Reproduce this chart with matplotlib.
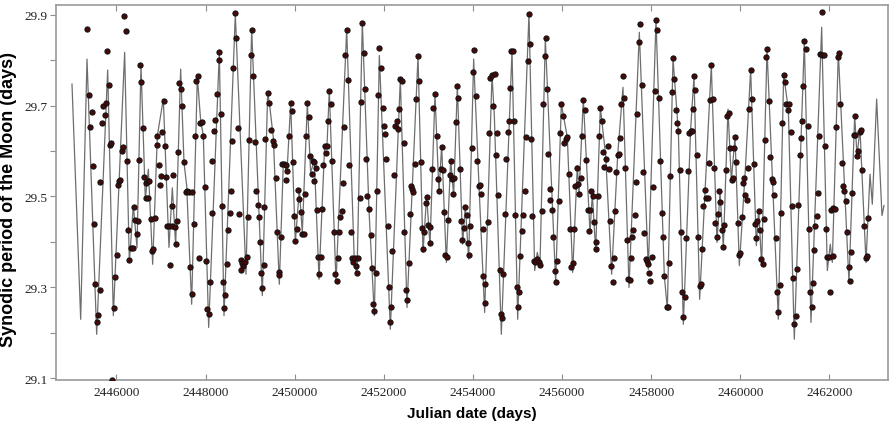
import matplotlib.pyplot as plt
from matplotlib.ticker import FixedLocator

# synodic period measurements (dots)
dot_jd = [
    2445345, 2445383, 2445443, 2445413, 2445472, 2445487, 2445517, 2445622, 2445592, 2445562,
    2445637, 2445667, 2445697, 2445742, 2445764, 2445787, 2445824, 2445854, 2445877, 2445906,
    2445944, 2445966, 2446011, 2446034, 2446064, 2446086, 2446131, 2446153, 2446176, 2446213,
    2446228, 2446266, 2446288, 2446325, 2446363, 2446385, 2446423, 2446475, 2446453, 2446512,
    2446528, 2446557, 2446587, 2446617, 2446662, 2446700, 2446737, 2446655, 2446707, 2446774,
    2446864, 2446804, 2446827, 2446902, 2446917, 2446954, 2446976, 2446999, 2447029, 2447059,
    2447089,
    2447111, 2447141, 2447178, 2447253, 2447306, 2447261, 2447246, 2447328, 2447351, 2447193,
    2447388, 2447403, 2447440, 2447478, 2447515, 2447553, 2447582, 2447635, 2447702, 2447650,
    2447687, 2447732, 2447770, 2447792, 2447837, 2447874, 2447912, 2447949, 2447852, 2447979,
    2448009, 2448039, 2448076, 2448099, 2448136, 2448151, 2448181, 2448218, 2448248, 2448293,
    2448308, 2448338, 2448368, 2448398, 2448435, 2448420, 2448480, 2448510, 2448548, 2448570,
    2448593, 2448623, 2448682, 2448667, 2448727, 2448750, 2448795, 2448825, 2448847, 2448877,
    2448802, 2448922, 2448952, 2448982, 2449012, 2449042, 2449071, 2449109, 2449131, 2449169,
    2449199, 2449221, 2449244, 2449273, 2449318, 2449341,
    2449318, 2449393, 2449431, 2449461, 2449505, 2449535, 2449573, 2449603, 2449640, 2449655,
    2449685, 2449722, 2449760, 2449797, 2449827, 2449805, 2449880, 2449910, 2449939, 2449954,
    2449992, 2450014, 2450044, 2450082, 2450104, 2450134, 2450171, 2450209, 2450231, 2450254,
    2450284, 2450321, 2450343, 2450381, 2450403, 2450426, 2450441, 2450471, 2450493, 2450531,
    2450583, 2450553, 2450620, 2450643, 2450673, 2450695, 2450725, 2450748, 2450777, 2450807,
    2450845, 2450875, 2450897, 2450942, 2450965, 2450994, 2451024, 2451054, 2451077, 2451114,
    2451137, 2451167, 2451204, 2451226, 2451264, 2451294, 2451316, 2451346, 2451384, 2451406,
    2451428, 2451458, 2451488, 2451518, 2451556, 2451571,
    2451608, 2451630, 2451668, 2451705, 2451735, 2451818, 2451750, 2451788, 2451840, 2451877,
    2451900, 2451937, 2451975, 2451997, 2452027, 2452049, 2452087, 2452117, 2452162, 2452147,
    2452192, 2452237, 2452259, 2452289, 2452319, 2452341, 2452371, 2452409, 2452446, 2452461,
    2452498, 2452528, 2452566, 2452596, 2452611, 2452640, 2452663, 2452700, 2452730, 2452768,
    2452798, 2452828, 2452850, 2452880, 2452902, 2452940, 2452970, 2453000, 2453037, 2453030,
    2453075, 2453112, 2453149, 2453187, 2453217, 2453239, 2453277, 2453299, 2453321, 2453351,
    2453381, 2453419, 2453441, 2453479, 2453501, 2453538, 2453561, 2453583, 2453613, 2453651,
    2453673, 2453703, 2453733, 2453763, 2453793, 2453823,
    2453860, 2453890, 2453920, 2453935, 2453972, 2454010, 2454032, 2454070, 2454085, 2454130,
    2454159, 2454182, 2454219, 2454234, 2454279, 2454264, 2454332, 2454369, 2454391, 2454429,
    2454489, 2454451, 2454511, 2454549, 2454571, 2454601, 2454623, 2454661, 2454683, 2454713,
    2454751, 2454781, 2454818, 2454833, 2454863, 2454908, 2454923, 2454953, 2454990, 2455012,
    2455042, 2455065, 2455095, 2455132, 2455162, 2455192, 2455229, 2455259, 2455289, 2455304,
    2455334, 2455372, 2455402, 2455446, 2455476, 2455514, 2455551, 2455574, 2455611, 2455641,
    2455656, 2455693, 2455723, 2455738, 2455776, 2455806, 2455836, 2455865, 2455895, 2455925,
    2455955, 2455985, 2456015, 2456053,
    2456090, 2456120, 2456150, 2456180, 2456277, 2456210, 2456247, 2456299, 2456329, 2456359,
    2456382, 2456419, 2456449, 2456479, 2456516, 2456539, 2456576, 2456614, 2456636, 2456659,
    2456689, 2456726, 2456756, 2456771, 2456816, 2456838, 2456861, 2456898, 2456920, 2456950,
    2456980, 2457025, 2457048, 2457070, 2457108, 2457137, 2457167, 2457197, 2457220, 2457250,
    2457280, 2457310, 2457332, 2457369, 2457392, 2457422, 2457452, 2457489, 2457519, 2457549,
    2457579, 2457601, 2457639, 2457661, 2457691, 2457721, 2457751, 2457788, 2457818, 2457848,
    2457878, 2457916, 2457938, 2457961, 2457983, 2458020, 2458043, 2458080, 2458110, 2458133,
    2458170, 2458200, 2458237, 2458260, 2458297,
    2458350, 2458387, 2458402, 2458432, 2458462, 2458492, 2458522, 2458552, 2458574, 2458612,
    2458641, 2458671, 2458701, 2458724, 2458761, 2458784, 2458821, 2458851, 2458888, 2458911,
    2458941, 2458963, 2458993, 2459023, 2459061, 2459090, 2459120, 2459143, 2459173, 2459203,
    2459233, 2459270, 2459300, 2459322, 2459352, 2459382, 2459412, 2459442, 2459472, 2459502,
    2459532, 2459554, 2459584, 2459622, 2459644, 2459674, 2459711, 2459741, 2459764, 2459809,
    2459839, 2459861, 2459884, 2459913, 2459943, 2459973, 2460003, 2460033, 2460056, 2460086,
    2460116, 2460153, 2460175, 2460205, 2460235, 2460265, 2460303, 2460325, 2460355, 2460377,
    2460415, 2460445, 2460475, 2460505, 2460535, 2460564,
    2460602, 2460587, 2460639, 2460677, 2460714, 2460744, 2460766, 2460796, 2460826, 2460894,
    2460856, 2460916, 2460946, 2460976, 2461006, 2461036, 2461066, 2461096, 2461133, 2461155,
    2461185, 2461215, 2461245, 2461268, 2461298, 2461335, 2461357, 2461387, 2461410, 2461440,
    2461477, 2461515, 2461537, 2461567, 2461604, 2461627, 2461657, 2461687, 2461717, 2461747,
    2461776, 2461791, 2461844, 2461874, 2461829, 2461896, 2461926, 2461956, 2461986, 2462008,
    2462046, 2462091, 2462128, 2462083, 2462158, 2462188, 2462218, 2462248, 2462278, 2462308,
    2462338, 2462368, 2462398, 2462435, 2462465, 2462480, 2462510, 2462547, 2462585, 2462585,
    2462622, 2462652, 2462689, 2462719, 2462742, 2462779, 2462817, 2462839, 2462861,
]
dot_period = [
    29.868, 29.724, 29.685, 29.652, 29.566, 29.439, 29.307, 29.295, 29.240, 29.225,
    29.531, 29.662, 29.700, 29.679, 29.705, 29.819, 29.745, 29.614, 29.618, 29.096,
    29.255, 29.322, 29.372, 29.526, 29.533, 29.536, 29.601, 29.608, 29.896, 29.863,
    29.577, 29.426, 29.361, 29.387, 29.387, 29.476, 29.449, 29.445, 29.417, 29.580,
    29.788, 29.751, 29.651, 29.542, 29.530, 29.533, 29.535, 29.497, 29.497, 29.450,
    29.453, 29.381, 29.385, 29.614, 29.632, 29.569, 29.526, 29.546, 29.641, 29.709,
    29.612,
    29.542, 29.436, 29.434, 29.434, 29.432, 29.548, 29.480, 29.395, 29.447, 29.349,
    29.597, 29.749, 29.736, 29.700, 29.575, 29.509, 29.511, 29.509, 29.509, 29.346,
    29.285, 29.439, 29.634, 29.755, 29.764, 29.661, 29.663, 29.634, 29.364, 29.520,
    29.359, 29.252, 29.241, 29.313, 29.464, 29.578, 29.643, 29.669, 29.725, 29.799,
    29.817, 29.681, 29.480, 29.311, 29.283, 29.254, 29.351, 29.427, 29.464, 29.511,
    29.623, 29.783, 29.849, 29.904, 29.651, 29.461, 29.360, 29.353, 29.348, 29.357,
    29.339, 29.366, 29.454, 29.625, 29.811, 29.866, 29.764, 29.619, 29.511, 29.482,
    29.454, 29.399, 29.332, 29.298, 29.476, 29.626,
    29.349, 29.728, 29.706, 29.646, 29.623, 29.614, 29.541, 29.421, 29.335, 29.328,
    29.410, 29.571, 29.571, 29.570, 29.555, 29.536, 29.632, 29.705, 29.689, 29.576,
    29.456, 29.403, 29.428, 29.514, 29.494, 29.465, 29.417, 29.417, 29.506, 29.632,
    29.705, 29.674, 29.590, 29.549, 29.577, 29.533, 29.575, 29.562, 29.470, 29.368,
    29.368, 29.329, 29.472, 29.570, 29.610, 29.596, 29.610, 29.665, 29.733, 29.703,
    29.579, 29.423, 29.329, 29.315, 29.365, 29.423, 29.454, 29.467, 29.529, 29.652,
    29.810, 29.866, 29.757, 29.569, 29.423, 29.364, 29.357, 29.364, 29.348, 29.331,
    29.364, 29.497, 29.707, 29.881, 29.815, 29.737,
    29.582, 29.500, 29.472, 29.415, 29.343, 29.331, 29.263, 29.249, 29.513, 29.724,
    29.826, 29.782, 29.694, 29.654, 29.637, 29.582, 29.434, 29.300, 29.256, 29.223,
    29.381, 29.548, 29.654, 29.666, 29.648, 29.693, 29.758, 29.753, 29.618, 29.421,
    29.295, 29.273, 29.353, 29.462, 29.524, 29.516, 29.509, 29.571, 29.714, 29.808,
    29.753, 29.575, 29.430, 29.384, 29.421, 29.485, 29.498, 29.437, 29.432, 29.397,
    29.561, 29.695, 29.725, 29.634, 29.538, 29.511, 29.560, 29.608, 29.558, 29.465,
    29.371, 29.368, 29.448, 29.548, 29.578, 29.538, 29.506, 29.541, 29.663, 29.743,
    29.717, 29.560, 29.445, 29.404, 29.430, 29.476,
    29.460, 29.398, 29.372, 29.434, 29.607, 29.773, 29.822, 29.722, 29.577, 29.522,
    29.526, 29.505, 29.428, 29.326, 29.307, 29.265, 29.443, 29.640, 29.761, 29.766,
    29.769, 29.700, 29.591, 29.640, 29.504, 29.338, 29.241, 29.232, 29.329, 29.461,
    29.582, 29.641, 29.667, 29.738, 29.819, 29.819, 29.667, 29.460, 29.302, 29.258,
    29.289, 29.370, 29.425, 29.460, 29.512, 29.631, 29.797, 29.902, 29.835, 29.626,
    29.458, 29.359, 29.355, 29.362, 29.355, 29.350, 29.467, 29.703, 29.809, 29.848,
    29.736, 29.593, 29.516, 29.492, 29.470, 29.412, 29.337, 29.311, 29.359, 29.491,
    29.640, 29.703, 29.677, 29.618,
    29.626, 29.630, 29.549, 29.428, 29.428, 29.344, 29.353, 29.522, 29.562, 29.527,
    29.505, 29.541, 29.634, 29.713, 29.690, 29.580, 29.470, 29.425, 29.470, 29.511,
    29.500, 29.444, 29.384, 29.401, 29.500, 29.632, 29.695, 29.667, 29.597, 29.565,
    29.582, 29.611, 29.560, 29.447, 29.348, 29.313, 29.365, 29.467, 29.554, 29.591,
    29.593, 29.628, 29.703, 29.764, 29.716, 29.562, 29.405, 29.318, 29.316, 29.364,
    29.410, 29.427, 29.460, 29.531, 29.681, 29.839, 29.879, 29.745, 29.553, 29.419,
    29.362, 29.358, 29.351, 29.331, 29.315, 29.367, 29.520, 29.733, 29.889, 29.865,
    29.717, 29.579, 29.463, 29.412, 29.326,
    29.256, 29.256, 29.353, 29.544, 29.730, 29.804, 29.758, 29.690, 29.661, 29.643,
    29.559, 29.423, 29.291, 29.236, 29.280, 29.409, 29.555, 29.639, 29.643, 29.643,
    29.692, 29.764, 29.735, 29.591, 29.412, 29.304, 29.307, 29.384, 29.480, 29.514,
    29.496, 29.497, 29.573, 29.712, 29.788, 29.714, 29.562, 29.441, 29.410, 29.461,
    29.511, 29.488, 29.427, 29.388, 29.438, 29.558, 29.678, 29.683, 29.606, 29.537,
    29.541, 29.606, 29.631, 29.575, 29.441, 29.371, 29.375, 29.454, 29.530, 29.541,
    29.504, 29.492, 29.563, 29.692, 29.779, 29.714, 29.571, 29.439, 29.409, 29.447,
    29.467, 29.427, 29.362, 29.351, 29.450, 29.624,
    29.824, 29.806, 29.711, 29.587, 29.538, 29.531, 29.503, 29.408, 29.291, 29.305,
    29.247, 29.464, 29.662, 29.767, 29.751, 29.704, 29.690, 29.704, 29.641, 29.480,
    29.320, 29.219, 29.237, 29.340, 29.482, 29.591, 29.628, 29.665, 29.743, 29.841,
    29.824, 29.654, 29.428, 29.291, 29.256, 29.309, 29.382, 29.434, 29.458, 29.508,
    29.632, 29.813, 29.811, 29.810, 29.905, 29.611, 29.428, 29.368, 29.368, 29.291,
    29.470, 29.474, 29.472, 29.370, 29.652, 29.806, 29.816, 29.703, 29.574, 29.524,
    29.513, 29.490, 29.421, 29.346, 29.315, 29.377, 29.507, 29.635, 29.678, 29.635,
    29.590, 29.600, 29.641, 29.646, 29.559, 29.434, 29.365, 29.370, 29.453,
]

# model curve, turning points
curve_jd = [
    2445001, 2445196, 2445338, 2445555, 2445802, 2445929, 2446183, 2446288, 2446378, 2446460,
    2446550, 2446647, 2446715, 2446812, 2446917, 2447051, 2447178, 2447253, 2447328, 2447440,
    2447515, 2447575, 2447687, 2447814, 2447889, 2447949, 2448069, 2448308, 2448413, 2448667,
    2448907, 2449034, 2449273, 2449393, 2449431, 2449520, 2449655, 2449745, 2449827, 2449910,
    2450014, 2450104, 2450171, 2450284, 2450358, 2450441, 2450546, 2450673, 2450725, 2450777,
    2450927, 2451167, 2451339, 2451399, 2451518, 2451668, 2451788, 2451900, 2452147, 2452371,
    2452521, 2452768, 2452880, 2452962, 2453037, 2453149, 2453239, 2453299, 2453404, 2453501,
    2453568, 2453651, 2453770, 2453830, 2453905, 2454017, 2454137, 2454264, 2454429, 2454481,
    2454638, 2454878, 2455005, 2455259, 2455387, 2455446, 2455506, 2455626, 2455858, 2455985,
    2456120, 2456240, 2456344, 2456382, 2456479, 2456629, 2456681, 2456756, 2456861, 2456980,
    2457115, 2457250, 2457369, 2457504, 2457736, 2457938, 2458110, 2458297, 2458365, 2458492,
    2458612, 2458724, 2458888, 2458963, 2459090, 2459352, 2459479, 2459547, 2459622, 2459726,
    2459801, 2459884, 2459981, 2460108, 2460235, 2460362, 2460415, 2460482, 2460602, 2460856,
    2460976, 2461081, 2461215, 2461440, 2461589, 2461829, 2461956, 2462023, 2462068, 2462203,
    2462442, 2462570, 2462622, 2462689, 2462824, 2462914, 2462966, 2463063, 2463183, 2463228,
]
curve_period = [
    29.747, 29.230, 29.802, 29.197, 29.778, 29.238, 29.817, 29.355, 29.480, 29.388,
    29.788, 29.494, 29.560, 29.351, 29.634, 29.714, 29.388, 29.519, 29.392, 29.780,
    29.575, 29.524, 29.263, 29.764, 29.667, 29.634, 29.212, 29.817, 29.238, 29.901,
    29.329, 29.868, 29.282, 29.728, 29.706, 29.630, 29.307, 29.575, 29.553, 29.705,
    29.399, 29.516, 29.421, 29.705, 29.553, 29.579, 29.318, 29.612, 29.612, 29.733,
    29.311, 29.868, 29.355, 29.329, 29.883, 29.470, 29.238, 29.810, 29.208, 29.758,
    29.256, 29.808, 29.377, 29.502, 29.392, 29.725, 29.509, 29.612, 29.355, 29.582,
    29.502, 29.743, 29.395, 29.480, 29.362, 29.802, 29.524, 29.245, 29.767, 29.678,
    29.197, 29.821, 29.230, 29.902, 29.337, 29.377, 29.348, 29.848, 29.311, 29.703,
    29.630, 29.333, 29.568, 29.505, 29.714, 29.421, 29.505, 29.381, 29.696, 29.590,
    29.329, 29.591, 29.740, 29.300, 29.861, 29.340, 29.889, 29.326, 29.252, 29.804,
    29.643, 29.219, 29.648, 29.764, 29.274, 29.788, 29.399, 29.511, 29.388, 29.692,
    29.535, 29.631, 29.348, 29.546, 29.779, 29.392, 29.472, 29.348, 29.824, 29.230,
    29.767, 29.692, 29.186, 29.841, 29.223, 29.872, 29.337, 29.395, 29.355, 29.817,
    29.311, 29.678, 29.590, 29.648, 29.355, 29.549, 29.483, 29.714, 29.458, 29.480,
]

x_ticks = [2446000, 2448000, 2450000, 2452000, 2454000, 2456000, 2458000, 2460000, 2462000]
y_ticks = [29.1, 29.3, 29.5, 29.7, 29.9]
y_minor = [29.2, 29.4, 29.6, 29.8]

fig = plt.figure(figsize=(8.89, 4.31), dpi=100)
ax = fig.add_axes([56 / 889, 1 - 381 / 431, 832 / 889, 375 / 431])

ax.plot(curve_jd, curve_period, color='#6e6e6e', lw=0.9, zorder=2)
ax.plot(dot_jd, dot_period, ls='none', marker='o', ms=3.7, mfc='#4a0808',
        mec='#111111', mew=0.8, zorder=3)

ax.set_xlim(2444642, 2463318)
ax.set_ylim(29.0965, 29.921)

ax.xaxis.set_major_locator(FixedLocator(x_ticks))
ax.set_xticklabels([str(t) for t in x_ticks])
ax.yaxis.set_major_locator(FixedLocator(y_ticks))
ax.yaxis.set_minor_locator(FixedLocator(y_minor))
ax.set_yticklabels(['%.1f' % t for t in y_ticks])

ax.tick_params(axis='x', direction='in', top=True, length=4, width=0.8,
               colors='#8c8c8c', labelcolor='#222222', pad=4)
ax.tick_params(axis='y', which='both', direction='out', length=4, width=0.8,
               colors='#8c8c8c', labelcolor='#222222', pad=2)
for lab in ax.get_xticklabels() + ax.get_yticklabels():
    lab.set_fontfamily('Liberation Serif')
    lab.set_fontsize(9.5)

for sp in ax.spines.values():
    sp.set_color('#9a9a9a')
    sp.set_linewidth(1.2)

ax.set_xlabel('Julian date (days)', fontfamily='Liberation Sans', fontweight='bold',
              fontsize=11, labelpad=6)
ax.set_ylabel('Synodic period of the Moon (days)', fontfamily='Liberation Sans',
              fontweight='bold', fontsize=13)
ax.yaxis.set_label_coords(-0.047, 0.485)

fig.savefig('out.png', dpi=100)
